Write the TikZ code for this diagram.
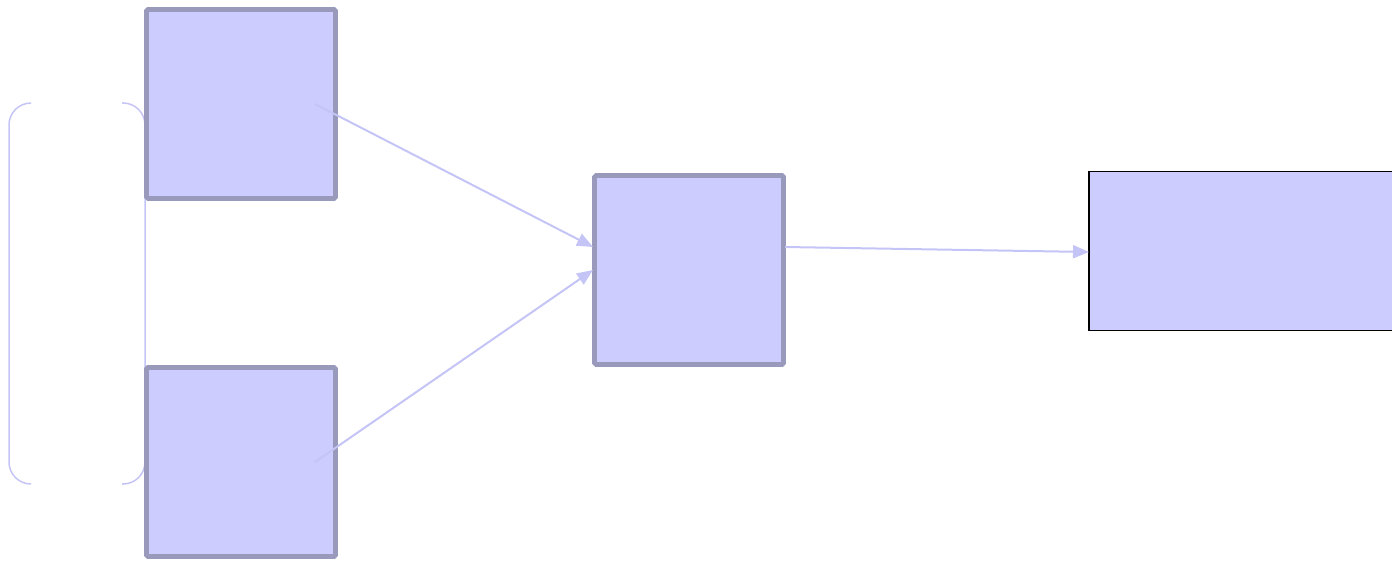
\documentclass[tikz,border=0pt]{standalone}
\usetikzlibrary{arrows.meta}
\definecolor{boxfill}{HTML}{CCCCFF}
\definecolor{boxline}{HTML}{9999BB}
\definecolor{linkc}{HTML}{C4C4F6}
\begin{document}
\begin{tikzpicture}[x=1pt,y=-1pt,
  sq/.style={draw=boxline,fill=boxfill,line width=4.6pt,rounded corners=1.5pt,minimum width=189pt,minimum height=189pt,inner sep=0pt,outer sep=0pt},
  wide/.style={draw=black,fill=boxfill,line width=1.8pt,minimum width=320pt,minimum height=159pt,inner sep=0pt,outer sep=0pt},
  link/.style={draw=linkc,line width=2pt,-{Triangle[length=16pt,width=13pt]}},
  brk/.style={draw=linkc,line width=1.5pt,rounded corners=22pt}]
\useasboundingbox (0,0) rectangle (1392,561);
\path[brk] (31,103) -- (9,103) -- (9,484) -- (31,484);
\path[brk] (122,103) -- (145,103) -- (145,484) -- (122,484);
\node[sq] (a) at (241,104) {};
\node[sq] (b) at (241,462) {};
\node[sq] (c) at (689,270) {};
\node[wide,anchor=west] (d) at (1089,251) {};
\coordinate (as) at (315,104);
\coordinate (bs) at (315,462);
\coordinate (cs) at (785,247);
\coordinate (ce1) at (593,247);
\coordinate (ce2) at (593,270);
\coordinate (de) at (1089,252);
\draw[link] (as) -- (ce1);
\draw[link] (bs) -- (ce2);
\draw[link] (cs) -- (de);
\end{tikzpicture}
\end{document}
